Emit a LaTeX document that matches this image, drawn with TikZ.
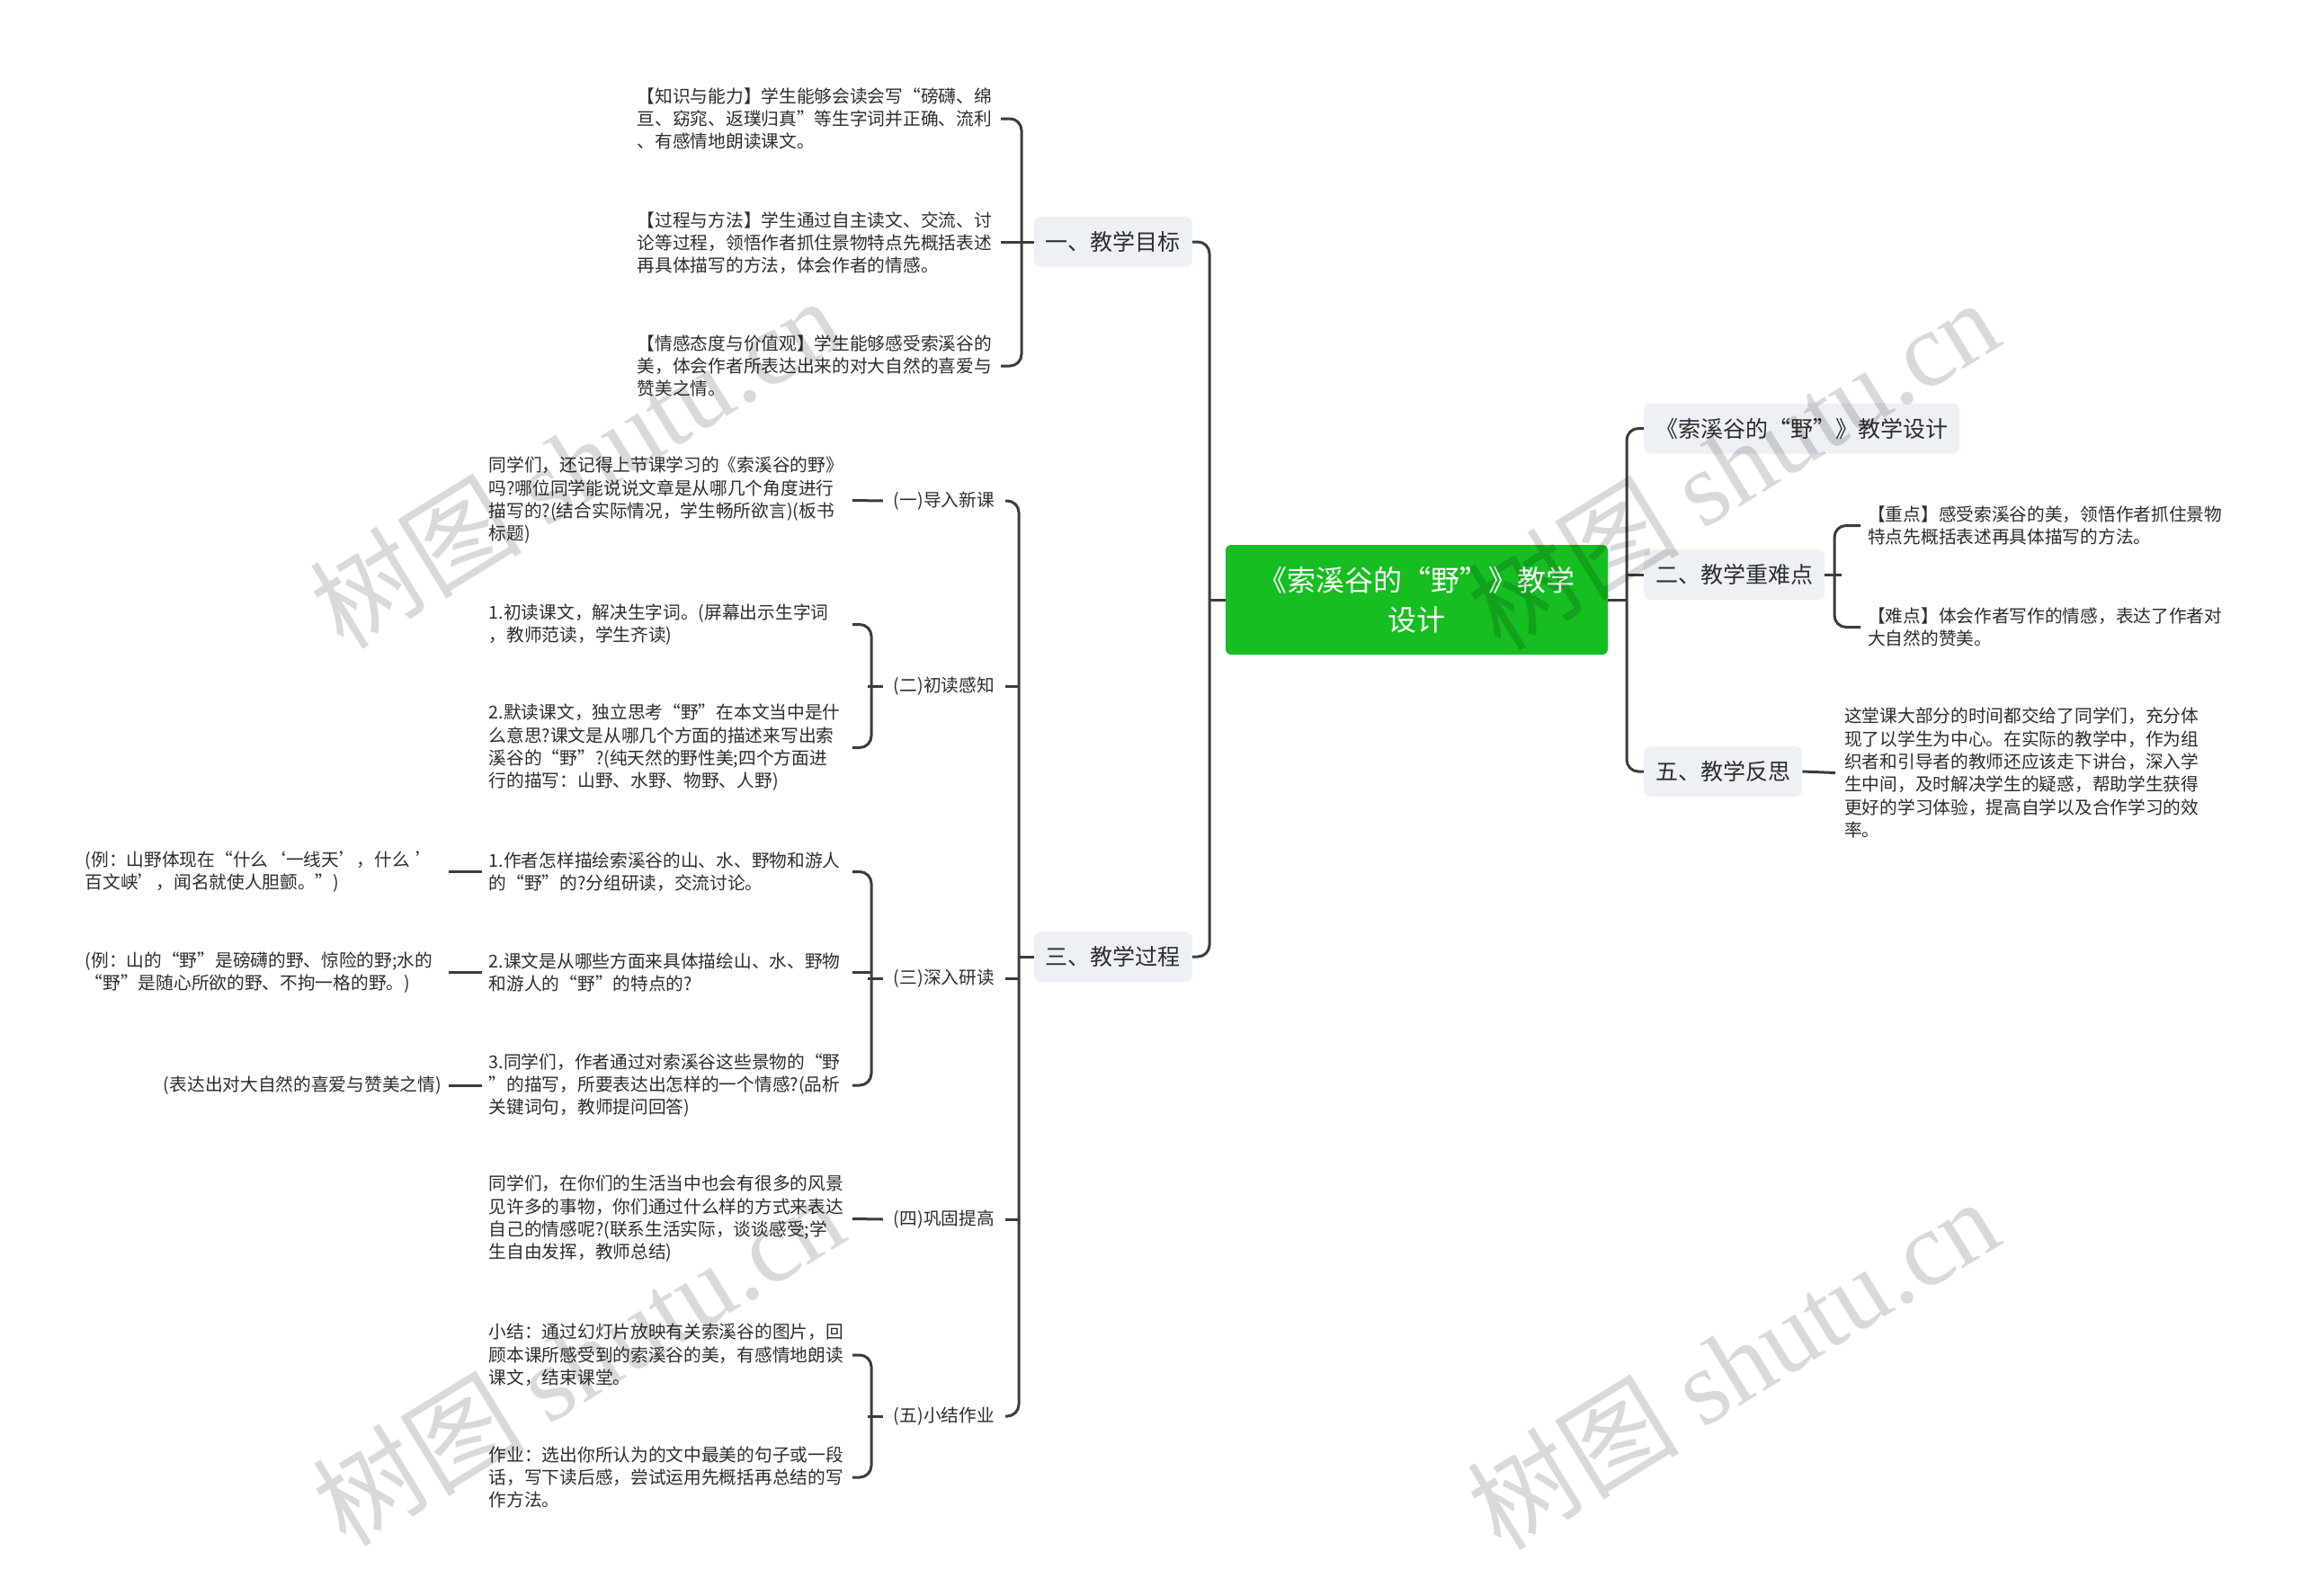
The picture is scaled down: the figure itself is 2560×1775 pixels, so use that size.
\documentclass[tikz,border=0pt]{standalone}
\usepackage{fontspec}
\setmainfont{Noto Sans CJK SC}
\newfontfamily\wmserif{Liberation Serif}
\usetikzlibrary{calc}
\definecolor{linec}{RGB}{60,60,60}
\definecolor{textc}{RGB}{45,45,45}
\definecolor{boxc}{RGB}{237,240,244}
\definecolor{rootc}{RGB}{22,190,33}
\newcommand\leafsize{\fontsize{19.7pt}{25.3pt}\selectfont}
\newcommand\branchsize{\fontsize{25pt}{30pt}\selectfont}
\newcommand\rootsize{\fontsize{32pt}{44pt}\selectfont}
\newcommand\wmsize{\fontsize{118pt}{120pt}\selectfont}
\begin{document}
\begin{tikzpicture}[x=1pt,y=-1pt,
  conn/.style={draw=linec, line width=3pt, rounded corners=13pt},
  leafbox/.style={inner sep=0pt, text width=400pt, align=left, font=\leafsize, text=textc},
  leafone/.style={inner sep=0pt, font=\leafsize, text=textc},
  midbox/.style={inner ysep=2pt, inner xsep=12pt, font=\leafsize, text=textc},
  branchbox/.style={fill=boxc, rounded corners=8pt, inner xsep=13pt, inner ysep=0pt, minimum height=56pt, font=\branchsize, text=textc},
  rootbox/.style={fill=rootc, rounded corners=6pt, minimum width=425pt, minimum height=122pt, align=center, font=\rootsize, text=white, inner sep=0pt},
  wmark/.style={font=\wmsize, text=black, text opacity=0.15, inner sep=0pt}]
\fill[white] (0,0) rectangle (2560,1775);
\useasboundingbox (0,0) rectangle (2560,1775);

% trunk / bracket coordinates
\coordinate (tL) at (1345,0);
\coordinate (tR) at (1809,0);
\coordinate (tS) at (1133,0);
\coordinate (bA) at (1132,0);
\coordinate (bB) at (965,0);
\coordinate (bE) at (2048,0);

% root
\node[rootbox] (root) at (1575.5,667) {《索溪谷的“野”》教学\\设计};

% main branches
\node[branchbox, anchor=east] (b1) at (1326,269) {一、教学目标};
\node[branchbox, anchor=east] (b3) at (1326,1064) {三、教学过程};
\node[branchbox, anchor=west] (b0) at (1828,476.5) {《索溪谷的“野”》教学设计};
\node[branchbox, anchor=west] (b2) at (1828,639) {二、教学重难点};
\node[branchbox, anchor=west] (b5) at (1828,858) {五、教学反思};

% 一 children
\node[leafbox, anchor=east] (g1) at (1109,132) {【知识与能力】学生能够会读会写“磅礴、绵\\亘、窈窕、返璞归真”等生字词并正确、流利\\、有感情地朗读课文。};
\node[leafbox, anchor=east] (g2) at (1109,270) {【过程与方法】学生通过自主读文、交流、讨\\论等过程，领悟作者抓住景物特点先概括表述\\再具体描写的方法，体会作者的情感。};
\node[leafbox, anchor=east] (g3) at (1109,407) {【情感态度与价值观】学生能够感受索溪谷的\\美，体会作者所表达出来的对大自然的喜爱与\\赞美之情。};

% 三 sub labels
\node[midbox, anchor=east] (L1) at (1118,557) {(一)导入新课};
\node[midbox, anchor=east] (L2) at (1118,763) {(二)初读感知};
\node[midbox, anchor=east] (L3) at (1118,1088) {(三)深入研读};
\node[midbox, anchor=east] (L4) at (1118,1356) {(四)巩固提高};
\node[midbox, anchor=east] (L5) at (1118,1575) {(五)小结作业};

% leaves under 三
\node[leafbox, anchor=east] (p1) at (944,556.5) {同学们，还记得上节课学习的《索溪谷的野》\\吗?哪位同学能说说文章是从哪几个角度进行\\描写的?(结合实际情况，学生畅所欲言)(板书\\标题)};
\node[leafbox, anchor=east] (q1) at (944,694.5) {1.初读课文，解决生字词。(屏幕出示生字词\\，教师范读，学生齐读)};
\node[leafbox, anchor=east] (q2) at (944,831.5) {2.默读课文，独立思考“野”在本文当中是什\\么意思?课文是从哪几个方面的描述来写出索\\溪谷的“野”?(纯天然的野性美;四个方面进\\行的描写：山野、水野、物野、人野)};
\node[leafbox, anchor=east] (r1) at (944,969.5) {1.作者怎样描绘索溪谷的山、水、野物和游人\\的“野”的?分组研读，交流讨论。};
\node[leafbox, anchor=east] (r2) at (944,1081.5) {2.课文是从哪些方面来具体描绘山、水、野物\\和游人的“野”的特点的?};
\node[leafbox, anchor=east] (r3) at (944,1207) {3.同学们，作者通过对索溪谷这些景物的“野\\”的描写，所要表达出怎样的一个情感?(品析\\关键词句，教师提问回答)};
\node[leafbox, anchor=east] (e1) at (495,969.5) {(例：山野体现在“什么‘一线天’，什么 ’\\百文峡’，闻名就使人胆颤。”)};
\node[leafbox, anchor=east] (e2) at (495,1081.5) {(例：山的“野”是磅礴的野、惊险的野;水的\\“野”是随心所欲的野、不拘一格的野。)};
\node[leafone, anchor=east] (e3) at (491,1207) {(表达出对大自然的喜爱与赞美之情)};
\node[leafbox, anchor=east] (s1) at (944,1355.5) {同学们，在你们的生活当中也会有很多的风景\\见许多的事物，你们通过什么样的方式来表达\\自己的情感呢?(联系生活实际，谈谈感受;学\\生自由发挥，教师总结)};
\node[leafbox, anchor=east] (t1) at (944,1507) {小结：通过幻灯片放映有关索溪谷的图片，回\\顾本课所感受到的索溪谷的美，有感情地朗读\\课文，结束课堂。};
\node[leafbox, anchor=east] (t2) at (944,1643) {作业：选出你所认为的文中最美的句子或一段\\话，写下读后感，尝试运用先概括再总结的写\\作方法。};

% right leaves
\node[leafbox, anchor=west] (k1) at (2077,584.5) {【重点】感受索溪谷的美，领悟作者抓住景物\\特点先概括表述再具体描写的方法。};
\node[leafbox, anchor=west] (k2) at (2077,697.5) {【难点】体会作者写作的情感，表达了作者对\\大自然的赞美。};
\node[leafbox, anchor=west] (m1) at (2051,859.5) {这堂课大部分的时间都交给了同学们，充分体\\现了以学生为中心。在实际的教学中，作为组\\织者和引导者的教师还应该走下讲台，深入学\\生中间，及时解决学生的疑惑，帮助学生获得\\更好的学习体验，提高自学以及合作学习的效\\率。};

% main connectors
\draw[conn] (b1.east) -- (b1.east -| tL) -- (b3.east -| tL) -- (b3.east);
\draw[conn] (root.west) -- (root.west -| tL);
\draw[conn] (b0.west) -- (b0.west -| tR) -- (b5.west -| tR) -- (b5.west);
\draw[conn] (b2.west) -- (b2.west -| tR);
\draw[conn] (root.east) -- (root.east -| tR);

% 一
\draw[conn] ([xshift=4pt]g1.east) -- ([xshift=4pt]g1.east -| bA) -- ([xshift=4pt]g3.east -| bA) -- ([xshift=4pt]g3.east);
\draw[conn] (b1.west) -- ([xshift=4pt]g2.east |- b1.west);

% 三
\draw[conn] (L1.east) -- (L1.east -| tS) -- (L5.east -| tS) -- (L5.east);
\draw[conn] (L2.east) -- (L2.east -| tS);
\draw[conn] (L3.east) -- (L3.east -| tS);
\draw[conn] (L4.east) -- (L4.east -| tS);
\draw[conn] (b3.west) -- (b3.west -| tS);

\draw[conn] ([xshift=4pt]p1.east) -- (L1.west);
\draw[conn] ([xshift=4pt]q1.east) -- ([xshift=4pt]q1.east -| bB) -- ([xshift=4pt]q2.east -| bB) -- ([xshift=4pt]q2.east);
\draw[conn] (L2.west) -- (L2.west -| bB);
\draw[conn] ([xshift=4pt]r1.east) -- ([xshift=4pt]r1.east -| bB) -- ([xshift=4pt]r3.east -| bB) -- ([xshift=4pt]r3.east);
\draw[conn] ([xshift=4pt]r2.east) -- ([xshift=4pt]r2.east -| bB);
\draw[conn] (L3.west) -- (L3.west -| bB);
\draw[conn] ([xshift=4pt]e1.east) -- ([xshift=-8pt]r1.west);
\draw[conn] ([xshift=4pt]e2.east) -- ([xshift=-8pt]r2.west);
\draw[conn] ([xshift=8pt]e3.east) -- ([xshift=-8pt]r3.west);
\draw[conn] ([xshift=4pt]s1.east) -- (L4.west);
\draw[conn] ([xshift=4pt]t1.east) -- ([xshift=4pt]t1.east -| bB) -- ([xshift=4pt]t2.east -| bB) -- ([xshift=4pt]t2.east);
\draw[conn] (L5.west) -- (L5.west -| bB);

% right
\draw[conn] (b2.east) -- (b2.east -| bE);
\draw[conn] ([xshift=-8pt]k1.west) -- ([xshift=-8pt]k1.west -| bE) -- ([xshift=-8pt]k2.west -| bE) -- ([xshift=-8pt]k2.west);
\draw[conn] (b5.east) -- ([xshift=-10pt]m1.west);

% watermarks
\node[wmark, rotate=31.6] (w1) at (640,514) {树图 {\wmserif shutu.cn}};
\node[wmark, rotate=31.6] (w2) at (1927,516) {树图 {\wmserif shutu.cn}};
\node[wmark, rotate=31.6] (w3) at (643,1512) {树图 {\wmserif shutu.cn}};
\node[wmark, rotate=31.6] (w4) at (1927,1516) {树图 {\wmserif shutu.cn}};
\end{tikzpicture}
\end{document}
